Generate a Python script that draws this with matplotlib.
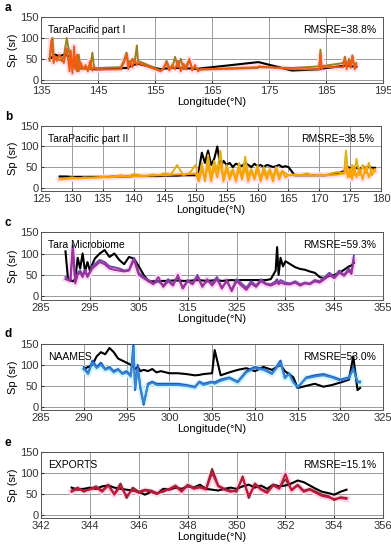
import matplotlib
matplotlib.use("Agg")
import matplotlib.pyplot as plt

# ---- panel a : TaraPacific part I ----
lon_a = [136.5, 136.8, 137.0, 137.2, 137.5, 137.8, 138.2, 138.6, 139.0, 139.5, 140.0, 140.2, 140.5,
         140.8, 141.0, 141.3, 141.6, 142.0, 142.4, 142.8, 143.2, 143.6, 144.0, 144.3, 144.6, 145.0,
         149.0, 149.5, 150.0, 150.3, 150.6, 151.0, 151.4, 151.8, 152.0,
         156.0, 156.5, 157.0, 157.5, 158.0, 158.5, 159.0, 159.5, 160.0, 160.5, 161.0, 161.5, 162.0, 162.5, 163.0,
         173.0, 173.2,
         179.0, 183.8, 184.0, 184.2, 184.5,
         188.0, 188.3, 188.6, 189.0, 189.3, 189.6, 190.0, 190.3]
meas_a = [50, 52, 55, 58, 60, 58, 56, 58, 60, 58, 55, 50, 45, 40, 38, 35, 32, 30, 28, 27, 26, 26, 25, 25, 25, 25,
          27, 28, 28, 30, 32, 34, 36, 38, 38,
          25, 26, 27, 27, 28, 28, 28, 28, 27, 27, 27, 27, 26, 26, 27,
          42, 42,
          22, 25, 26, 27, 27,
          33, 34, 34, 33, 32, 32, 31, 31]
mod1_a = [45, 80, 100, 60, 55, 50, 48, 45, 55, 100, 60, 40, 35, 30, 50, 20, 60, 25, 30, 25, 30, 25, 65, 30, 28, 28,
          30, 45, 65, 40, 35, 50, 40, 82, 45,
          22, 25, 45, 30, 28, 55, 30, 50, 25, 35, 48, 26, 30, 25, 24,
          28, 30,
          28, 32, 72, 30, 33,
          40, 55, 30, 50, 35, 58, 30, 40]
mod2_a = [50, 95, 70, 40, 55, 45, 60, 50, 40, 75, 20, 70, 15, 80, 25, 60, 20, 40, 25, 35, 20, 45, 22, 30, 25, 24,
          25, 40, 60, 25, 45, 30, 50, 35, 40,
          20, 30, 40, 22, 35, 25, 45, 20, 38, 25, 50, 22, 35, 20, 25,
          30, 32,
          25, 25, 60, 25, 30,
          30, 50, 25, 45, 28, 55, 25, 35]

# ---- panel b : TaraPacific part II ----
lon_b = [128, 129, 130, 131, 132, 133, 134, 135, 136, 137, 138, 139, 140, 141, 142, 143, 144, 145, 146, 147, 148, 149, 150,
         150.5, 151, 151.5, 152, 152.5, 153, 153.5, 154, 154.5, 155, 155.5, 156, 156.5, 157, 157.5, 158, 158.5, 159,
         159.5, 160, 160.5, 161, 161.5, 162, 162.5, 163, 163.5, 164, 164.5, 165,
         166, 167, 168, 169, 170, 171, 172, 173, 174,
         174.3, 174.6, 175, 175.3, 175.6, 176, 176.5, 177, 177.5, 178, 178.5, 179]
meas_b = [27, 27, 26, 26, 26, 26, 26, 26, 26, 27, 27, 27, 28, 28, 28, 28, 28, 29, 29, 29, 30, 30, 30,
          40, 85, 60, 90, 55, 70, 100, 50, 65, 55, 60, 50, 58, 55, 52, 60, 55, 50, 58, 52, 55, 50, 55, 53, 50, 52, 55, 50, 52, 50,
          30, 30, 30, 30, 30, 30, 32, 35, 40,
          45, 50, 48, 45, 50, 48, 45, 50, 48, 50, 48, 48]
mod1_b = [20, 22, 25, 22, 25, 24, 25, 26, 25, 28, 30, 27, 33, 30, 28, 32, 30, 35, 32, 55, 30, 35, 55,
          20, 60, 15, 80, 25, 65, 40, 90, 20, 55, 30, 45, 20, 60, 25, 75, 30, 45, 25, 55, 20, 50, 30, 45, 25, 50, 30, 40, 35, 30,
          32, 30, 35, 28, 32, 30, 35, 38, 35,
          90, 40, 25, 55, 30, 70, 30, 55, 35, 60, 30, 45]
mod2_b = [20, 21, 22, 23, 23, 24, 24, 25, 25, 26, 27, 27, 28, 28, 29, 29, 30, 30, 31, 32, 32, 33, 34,
          15, 45, 20, 55, 15, 50, 25, 60, 15, 45, 20, 40, 15, 45, 20, 50, 15, 40, 20, 45, 15, 40, 20, 40, 15, 45, 20, 40, 25, 30,
          30, 30, 30, 30, 30, 30, 30, 32, 34,
          50, 25, 45, 20, 50, 25, 45, 20, 50, 25, 45, 40]

# ---- panel c : Tara Microbiome ----
lon_c = [290, 290.5, 291, 291.5, 292, 292.5, 293, 293.5, 294, 294.5, 295, 295.5, 296, 297, 298, 299, 300, 301, 302, 303,
         304, 305, 306, 307,
         308, 309, 310, 311, 312, 313, 314, 315, 316, 317, 318, 319, 320, 321, 322, 323, 324, 325, 326, 327, 328, 329,
         330, 331, 332,
         333, 333.3, 333.6, 334, 334.5, 335, 336, 337, 338, 339, 340, 341, 342, 343, 344, 345, 346, 347, 348, 348.5, 349]
meas_c = [105, 42, 38, 35, 40, 90, 65, 100, 58, 80, 60, 75, 88, 100, 108, 92, 100, 85, 75, 92, 88, 70, 50, 35,
          35, 35, 36, 36, 37, 37, 36, 36, 37, 38, 37, 36, 37, 38, 36, 37, 38, 37, 38, 38, 38, 38, 38, 38, 40,
          60, 115, 50, 90, 70, 82, 75, 68, 64, 62, 58, 55, 45, 42, 48, 50, 55, 62, 70, 72, 78]
mod1_c = [45, 40, 38, 120, 35, 55, 60, 50, 62, 48, 58, 70, 75, 85, 80, 70, 68, 65, 60, 62, 90, 55, 45, 38,
          30, 35, 25, 40, 28, 45, 20, 38, 30, 50, 25, 35, 30, 45, 20, 35, 15, 40, 30, 20, 35, 25, 40, 30, 28,
          35, 40, 30, 38, 35, 32, 30, 35, 28, 32, 30, 38, 35, 45, 55, 45, 60, 50, 65, 55, 95]
mod2_c = [40, 38, 35, 110, 30, 50, 55, 45, 58, 45, 55, 65, 70, 80, 75, 65, 62, 60, 58, 60, 85, 50, 42, 35,
          28, 45, 22, 35, 25, 50, 18, 35, 28, 45, 22, 40, 25, 40, 18, 38, 12, 35, 25, 15, 30, 22, 35, 28, 25,
          30, 35, 28, 32, 30, 28, 28, 32, 25, 30, 28, 35, 32, 40, 50, 42, 55, 48, 60, 52, 85]

# ---- panel d : NAAMES ----
lon_d = [290, 290.5, 291, 291.5, 292, 292.5, 293, 293.5, 294, 294.5,
         295, 295.5, 295.8, 296, 296.3, 296.6, 297, 297.5, 298, 298.5,
         299, 300, 301, 302, 303, 303.5, 304, 305, 305.3, 306,
         307, 308, 309, 310, 311, 312, 313, 313.5, 314, 314.5,
         315, 316, 317, 318, 319, 320, 321, 321.5, 322, 322.3]
meas_d = [90, 95, 100, 120, 130, 125, 140, 130, 115, 110,
          105, 100, 95, 90, 95, 85, 88, 85, 90, 82,
          85, 80, 80, 78, 75, 76, 78, 80, 135, 75,
          82, 88, 92, 85, 95, 88, 100, 85, 78, 70,
          45, 50, 55, 48, 52, 58, 65, 120, 40, 45]
mod1_d = [95, 80, 110, 95, 105, 90, 95, 85, 90, 80,
          85, 75, 150, 40, 100, 45, 5, 55, 60, 55,
          55, 55, 55, 52, 48, 60, 55, 60, 58, 65,
          70, 60, 85, 95, 90, 80, 110, 70, 80, 60,
          45, 70, 75, 78, 72, 65, 70, 95, 60, 60]
mod2_d = [90, 78, 105, 92, 100, 88, 92, 82, 88, 78,
          82, 72, 140, 45, 90, 50, 10, 52, 58, 52,
          52, 52, 52, 50, 46, 58, 52, 58, 55, 62,
          68, 58, 82, 92, 88, 78, 105, 68, 78, 58,
          48, 68, 72, 75, 70, 62, 68, 90, 58, 58]

# ---- panel e : EXPORTS ----
lon_e = [343.25, 343.5, 343.75, 344.0, 344.25, 344.5, 344.75, 345.0, 345.25, 345.5, 345.75, 346.0,
         346.25, 346.5, 346.75, 347.0, 347.25, 347.5, 347.75, 348.0, 348.25, 348.5, 348.75, 349.0,
         349.25, 349.5, 349.75, 350.0, 350.25, 350.5, 350.75, 351.0, 351.25, 351.5, 351.75, 352.0,
         352.25, 352.5, 352.75, 353.0, 353.25, 353.5, 353.75, 354.0, 354.25, 354.5]
meas_e = [65, 60, 62, 65, 62, 68, 70, 65, 62, 60, 58, 55, 48, 55, 50, 62, 60, 65, 62, 68, 65, 72, 62,
          60, 58, 62, 65, 62, 68, 72, 65, 70, 62, 72, 68, 70, 75, 82, 78, 70, 62, 55, 52, 48, 55, 60]
mod1_e = [58, 65, 55, 62, 68, 58, 72, 50, 75, 40, 65, 55, 60, 58, 52, 55, 62, 70, 58, 72, 65, 68, 62,
          110, 70, 62, 58, 55, 92, 40, 75, 62, 55, 72, 65, 85, 60, 72, 58, 62, 55, 48, 45, 35, 42, 40]
mod2_e = [55, 62, 58, 60, 65, 55, 70, 48, 68, 45, 60, 52, 58, 55, 50, 58, 60, 68, 55, 70, 62, 65, 60,
          100, 68, 60, 55, 58, 88, 45, 72, 60, 52, 70, 62, 98, 58, 70, 55, 60, 52, 45, 42, 38, 40, 38]

panels = [
    ("a", "TaraPacific part I", "RMSRE=38.8%", lon_a, meas_a, mod1_a, mod2_a,
     (135, 195), list(range(135, 196, 10)), "#9a8020", "#f55a10", "#ffe0f0"),
    ("b", "TaraPacific part II", "RMSRE=38.5%", lon_b, meas_b, mod1_b, mod2_b,
     (125, 180), list(range(125, 181, 5)), "#e0b010", "#ffa200", "#ffe0f0"),
    ("c", "Tara Microbiome", "RMSRE=59.3%", lon_c, meas_c, mod1_c, mod2_c,
     (285, 355), list(range(285, 356, 10)), "#6a4aa8", "#a0309c", "#fcdcf6"),
    ("d", "NAAMES", "RMSRE=53.0%", lon_d, meas_d, mod1_d, mod2_d,
     (285, 325), list(range(285, 326, 5)), "#1f55c0", "#3a86d6", "#d0f6fa"),
    ("e", "EXPORTS", "RMSRE=15.1%", lon_e, meas_e, mod1_e, mod2_e,
     (342, 356), list(range(342, 357, 2)), "#7a3030", "#c8143c", "#ffd6e6"),
]

# axes boxes in figure fractions [left, bottom, width, height]
boxes = [
    [0.105, 0.849, 0.875, 0.120],
    [0.105, 0.653, 0.870, 0.118],
    [0.105, 0.455, 0.875, 0.123],
    [0.105, 0.254, 0.875, 0.121],
    [0.105, 0.058, 0.875, 0.120],
]

fig = plt.figure(figsize=(3.91, 5.5), dpi=100)
plt.rcParams['font.family'] = ['Liberation Sans', 'DejaVu Sans']

for (letter, name, rmsre, lon, meas, m1, m2, xlim, xt, c1, c2, band), box in zip(panels, boxes):
    ax = fig.add_axes(box)
    # pale uncertainty halo
    ax.plot(lon, m2, color=band, lw=4.5, solid_joinstyle='round', zorder=1)
    ax.plot(lon, meas, color="black", lw=1.5, zorder=2)
    ax.plot(lon, m1, color=c1, lw=1.4, zorder=3)
    ax.plot(lon, m2, color=c2, lw=1.4, zorder=4)
    ax.set_xlim(*xlim)
    ax.set_ylim(-8, 150)
    ax.set_xticks(xt)
    ax.set_yticks([0, 50, 100, 150])
    ax.grid(True, color="#9a9a9a", lw=0.7)
    ax.set_axisbelow(True)
    ax.tick_params(direction="in", labelsize=8, length=2, pad=2, colors="#333333")
    for s in ax.spines.values():
        s.set_color("#555555")
        s.set_linewidth(0.7)
    ax.set_ylabel("Sp (sr)", fontsize=8, labelpad=1)
    ax.set_xlabel("Longitude(°N)", fontsize=8, labelpad=1)
    ax.text(0.02, 0.88, name, transform=ax.transAxes, fontsize=7.5, va="top", ha="left")
    ax.text(0.98, 0.88, rmsre, transform=ax.transAxes, fontsize=7.5, va="top", ha="right")
    fig.text(0.012, box[1] + box[3] + 0.017, letter, fontsize=8.5, fontweight="bold", va="center")

fig.savefig("out.png", dpi=100)
